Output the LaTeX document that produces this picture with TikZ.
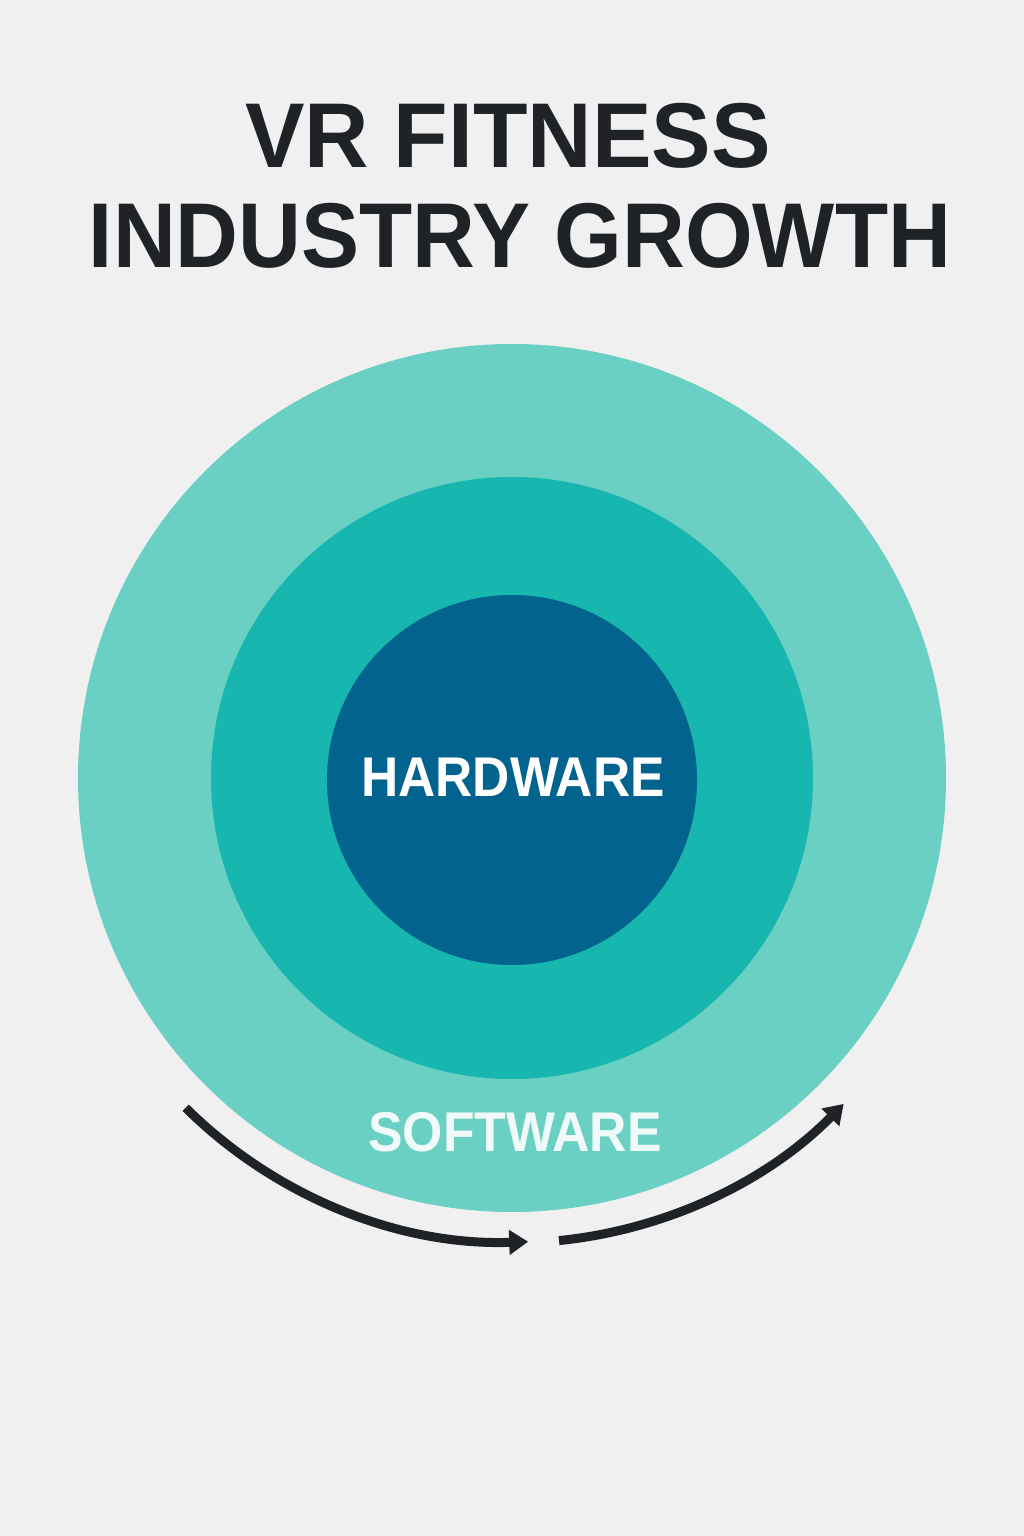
\documentclass[tikz,border=0pt]{standalone}
\usepackage{fontspec}
\setmainfont{Liberation Sans}
\usetikzlibrary{arrows.meta,calc}
\definecolor{bg}{HTML}{F0F0F0}
\definecolor{ink}{HTML}{1F2327}
\definecolor{ringout}{HTML}{6BD0C4}
\definecolor{ringmid}{HTML}{17B6AE}
\definecolor{core}{HTML}{02638F}
\definecolor{softtxt}{HTML}{F0FAF8}
\tikzset{
  ring/.style={circle, draw=none, inner sep=0pt},
  titletxt/.style={text=ink, font=\fontsize{92}{92}\selectfont\bfseries, inner sep=0pt, anchor=base},
  labeltxt/.style={font=\fontsize{56}{56}\selectfont\bfseries, inner sep=0pt, anchor=base},
  flow/.style={draw=ink, line width=9pt, -{Triangle[length=19pt,width=24pt]}},
}
\begin{document}
\begin{tikzpicture}[x=1pt,y=1pt]
\fill[bg] (0,0) rectangle (1024,1536);
\useasboundingbox (0,0) rectangle (1024,1536);
% title (baselines at pixel y 168 and 268)
\node[titletxt] (t1) at (508,1536-168) {\scalebox{0.97}[1]{VR FITNESS}};
\node[titletxt] (t2) at (520,1536-268) {\scalebox{0.946}[1]{INDUSTRY GROWTH}};
% rings
\node[ring, fill=ringout, minimum size=868pt] (outer) at (512,1536-778) {};
\node[ring, fill=ringmid, minimum size=602pt] (mid) at (512,1536-778) {};
\node[ring, fill=core, minimum size=370pt] (inner) at (512,1536-780) {};
% labels
\node[labeltxt, text=white] (hw) at (513,1536-797) {\scalebox{0.92}[1]{HARDWARE}};
\node[labeltxt, text=softtxt] (sw) at (515,1536-1152) {\scalebox{0.925}[1]{SOFTWARE}};
% arrows along arcs concentric to the rings
\coordinate (a1) at ($(outer.center)+(225.3:464)$);
\coordinate (a2) at ($(outer.center)+(275.8:465)$);
\draw[flow] (a1) arc[start angle=225.3, end angle=272.0, radius=464];
\draw[flow] (a2) arc[start angle=275.8, end angle=315.5, radius=465];
\end{tikzpicture}
\end{document}
